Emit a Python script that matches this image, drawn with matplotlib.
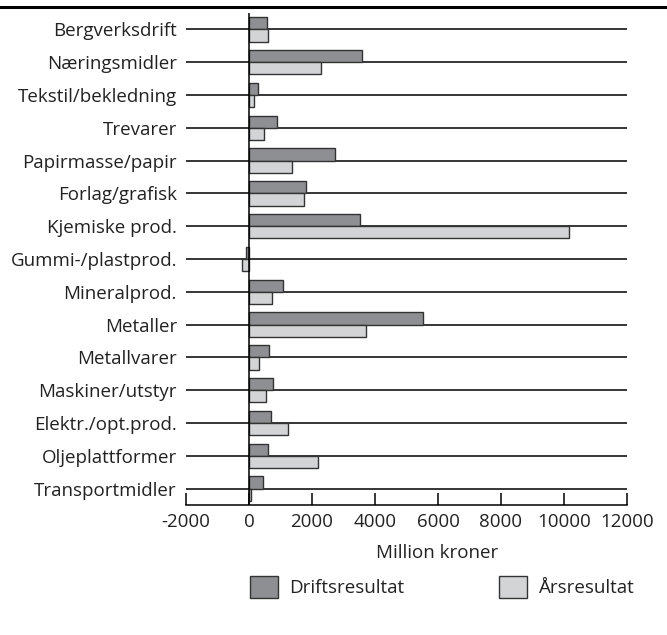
import matplotlib.pyplot as plt
import numpy as np
from matplotlib.lines import Line2D

plt.rcParams.update({
    "font.family": ["Open Sans", "DejaVu Sans"],
    "font.size": 13.5,
    "text.color": "#222222",
    "xtick.labelcolor": "#222222",
    "ytick.labelcolor": "#222222",
})

categories = [
    "Bergverksdrift", "Næringsmidler", "Tekstil/bekledning", "Trevarer",
    "Papirmasse/papir", "Forlag/grafisk", "Kjemiske prod.", "Gummi-/plastprod.",
    "Mineralprod.", "Metaller", "Metallvarer", "Maskiner/utstyr",
    "Elektr./opt.prod.", "Oljeplattformer", "Transportmidler",
]
drift = [560, 3600, 270, 895, 2720, 1820, 3530, -85,
         1065, 5530, 630, 770, 700, 590, 455]
aars = [600, 2290, 150, 475, 1360, 1750, 10150, -210,
        720, 3730, 320, 530, 1230, 2180, 60]
series_labels = ["Driftsresultat", "Årsresultat"]
xticks = [-2000, 0, 2000, 4000, 6000, 8000, 10000, 12000]

dark = "#8e8f93"
light = "#d3d4d6"
edge = "#333333"

fig = plt.figure(figsize=(6.67, 6.35), dpi=100)
ax = fig.add_axes([186 / 667, 1 - 505 / 635, (627 - 186) / 667, (505 - 13) / 635])

y = np.arange(len(categories))
h = 0.37
b1 = ax.barh(y - h / 2, drift, height=h, color=dark, edgecolor=edge, linewidth=1, zorder=3)
b2 = ax.barh(y + h / 2, aars, height=h, color=light, edgecolor=edge, linewidth=1, zorder=3)

ax.set_ylim(len(categories) - 0.5, -0.5)
ax.set_xlim(-2000, 12000)
ax.set_yticks(y)
ax.set_yticklabels(categories)
ax.set_xticks(xticks)
ax.set_xticklabels([str(t) for t in xticks])

ax.grid(axis="y", color="black", linewidth=1.1, zorder=1)
ax.axvline(0, color="black", linewidth=1.1, zorder=4)

for s in ["left", "top", "right"]:
    ax.spines[s].set_visible(False)
ax.spines["bottom"].set_linewidth(1.1)

ax.tick_params(axis="y", length=0, pad=6.5)
ax.tick_params(axis="x", direction="in", length=8.6, width=1.1, pad=6)

fig.text(437 / 667, 1 - 553 / 635, "Million kroner", ha="center", va="center")

leg = fig.legend([b1, b2], series_labels, loc="center left",
                 bbox_to_anchor=(250 / 667, 1 - 587 / 635), ncol=2,
                 frameon=False, handlelength=1.5, handleheight=1.4,
                 handletextpad=0.6, columnspacing=5.05, borderpad=0,
                 borderaxespad=0)

fig.add_artist(Line2D([0, 1], [1 - 6.7 / 635, 1 - 6.7 / 635], color="black", linewidth=2.2))

fig.savefig("out.png", dpi=100)
